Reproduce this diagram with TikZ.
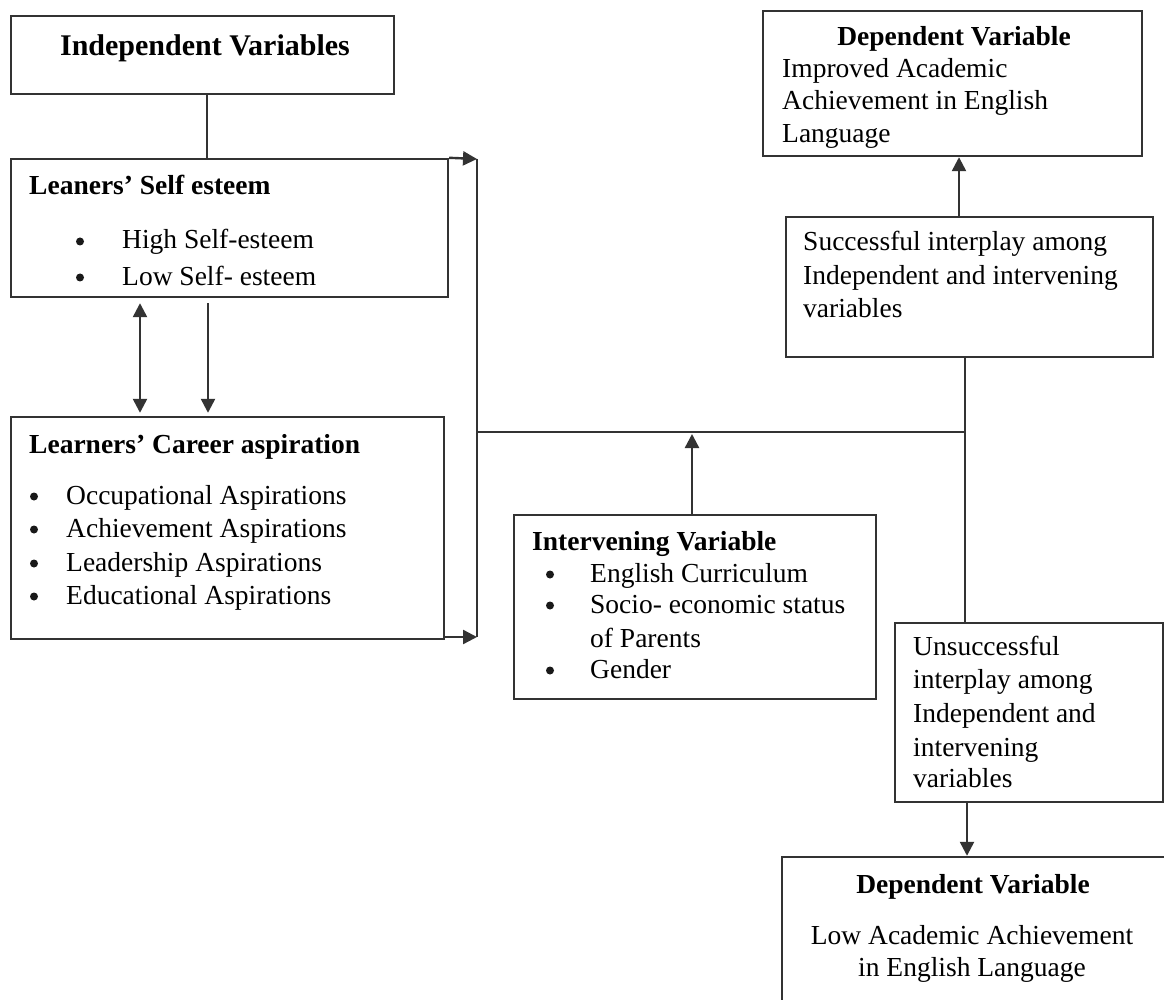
\documentclass[tikz,border=0pt]{standalone}
\usepackage{fontspec}
\setmainfont{Liberation Serif}
\usetikzlibrary{arrows.meta,fit}
\begin{document}
\begin{tikzpicture}[x=1pt,y=-1pt,
  box/.style={draw=black!80, line width=2.4pt, rectangle, inner sep=0pt},
  txt/.style={inner sep=0pt, anchor=base west, font=\fontsize{27.5}{33}\selectfont},
  ctxt/.style={txt, anchor=base},
  ttl/.style={txt, font=\fontsize{27.5}{33}\selectfont\bfseries},
  cttl/.style={ttl, anchor=base},
  bul/.style={circle, fill=black!90, inner sep=0pt, minimum size=8pt, yshift=7.5pt},
  conn/.style={draw=black!80, line width=2.4pt},
  tip/.tip={Triangle[length=14pt,width=14pt]},
  arr/.style={conn, -tip},
]
\clip (0,0) rectangle (1164,1000);
\fill[white] (0,0) rectangle (1164,1000);

% boxes
\node[box, fit={(11,16) (394,94)}] (iv) {};
\node[box, fit={(11,159) (448,297)}] (lse) {};
\node[box, fit={(11,417) (444,639)}] (lca) {};
\node[box, fit={(514,515) (876,699)}] (inter) {};
\node[box, fit={(763,11) (1142,156)}] (dvt) {};
\node[box, fit={(786,217) (1153,357)}] (succ) {};
\node[box, fit={(895,623) (1163,802)}] (unsucc) {};
\node[box, fit={(782,857) (1200,1040)}] (dvb) {};

% junction coordinates
\coordinate (jt) at (477,159);
\coordinate (jb) at (477,637);
\coordinate (jm) at (477,432);
\coordinate (jr) at (965,432);

% connectors
\draw[conn] (207,0 |- iv.south) -- (207,0 |- lse.north);
\draw[arr] (lse.north east) -- (jt);
\draw[arr] (444,637) -- (jb);
\draw[conn] (jt) -- (jb);
\draw[conn, tip-tip, shorten <=5pt, shorten >=3pt] (140,0 |- lse.south) -- (140,0 |- lca.north);
\draw[arr, shorten <=5pt, shorten >=3pt] (208,0 |- lse.south) -- (208,0 |- lca.north);
\draw[conn] (jm) -- (jr);
\draw[arr, shorten >=2pt] (692,0 |- inter.north) -- (692,432);
\draw[arr] (959,0 |- succ.north) -- (959,0 |- dvt.south);
\draw[conn] (965,0 |- succ.south) -- (965,0 |- unsucc.north);
\draw[arr] (967,0 |- unsucc.south) -- (967,0 |- dvb.north);

% texts
\node[inner sep=0pt, anchor=base, font=\fontsize{30}{33}\selectfont\bfseries] (tiv) at (205,56) {Independent Variables};

\node[ttl] (tlse) at (29,195) {Leaners’ Self esteem};
\node[bul] (b1) at (80,249) {};
\node[txt] (l1) at (122,249) {High Self-esteem};
\node[bul] (b2) at (80,285) {};
\node[txt] (l2) at (122,285) {Low Self- esteem};

\node[ttl] (tlca) at (29,453) {Learners’ Career aspiration};
\node[bul] (b3) at (34,504) {};
\node[txt] (l3) at (66,504) {Occupational Aspirations};
\node[bul] (b4) at (34,537) {};
\node[txt] (l4) at (66,537) {Achievement Aspirations};
\node[bul] (b5) at (34,571) {};
\node[txt] (l5) at (66,571) {Leadership Aspirations};
\node[bul] (b6) at (34,604) {};
\node[txt] (l6) at (66,604) {Educational Aspirations};

\node[ttl] (tint) at (532,550) {Intervening Variable};
\node[bul] (b7) at (550,582) {};
\node[txt] (l7) at (590,582) {English Curriculum};
\node[bul] (b8) at (550,613) {};
\node[txt] (l8) at (590,613) {Socio- economic status};
\node[txt] (l9) at (590,647) {of Parents};
\node[bul] (b10) at (550,678) {};
\node[txt] (l10) at (590,678) {Gender};

\node[cttl] (tdvt) at (954,46) {Dependent Variable};
\node[txt] (d1) at (782,78) {Improved Academic};
\node[txt] (d2) at (782,110) {Achievement in English};
\node[txt] (d3) at (782,143) {Language};

\node[txt] (s1) at (803,251) {Successful interplay among};
\node[txt] (s2) at (803,284) {Independent and intervening};
\node[txt] (s3) at (803,317) {variables};

\node[txt] (u1) at (913,655) {Unsuccessful};
\node[txt] (u2) at (913,688) {interplay among};
\node[txt] (u3) at (913,722) {Independent and};
\node[txt] (u4) at (913,756) {intervening};
\node[txt] (u5) at (913,787) {variables};

\node[cttl] (tdvb) at (973,893) {Dependent Variable};
\node[ctxt] (e1) at (972,944) {Low Academic Achievement};
\node[ctxt] (e2) at (972,976) {in English Language};
\end{tikzpicture}
\end{document}
